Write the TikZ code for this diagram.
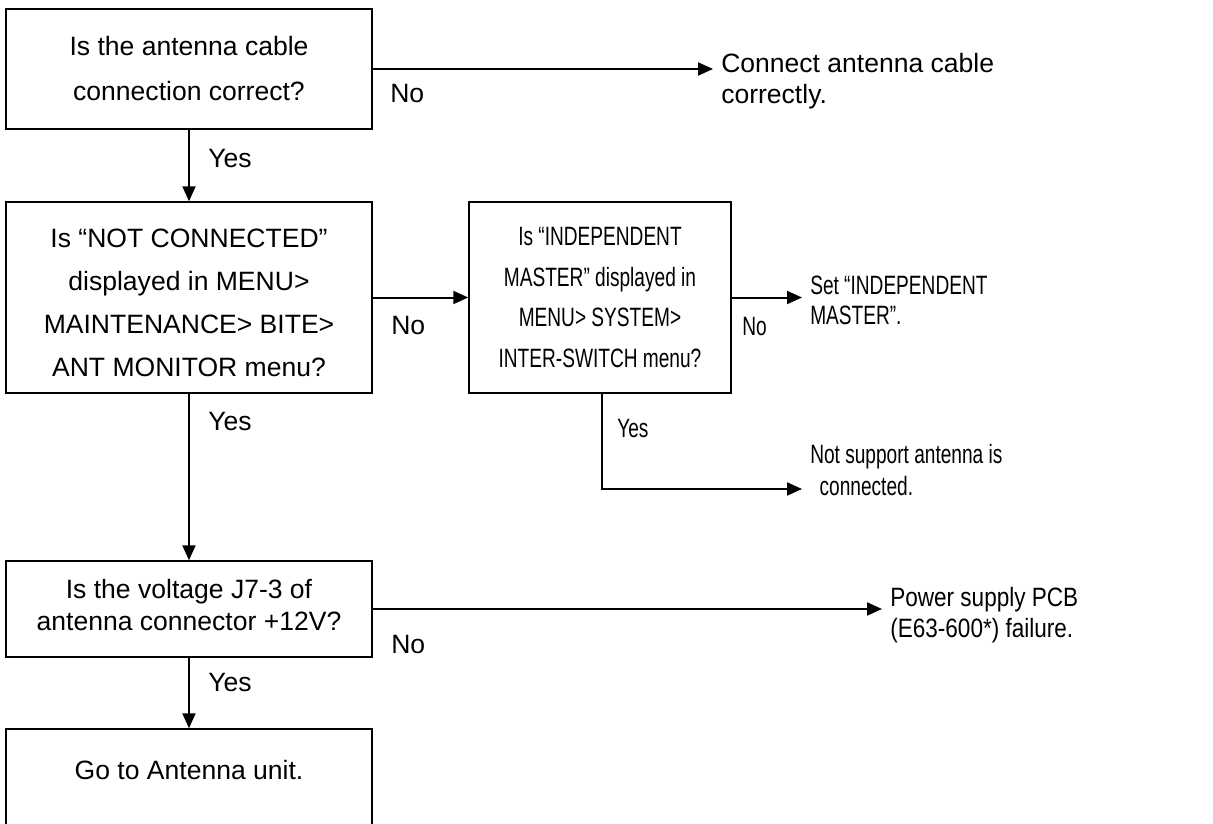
\documentclass[tikz,border=0pt]{standalone}
\usepackage{fontspec}
\setmainfont{Liberation Sans}
\newfontfamily\narrowf{Liberation Sans}[FakeStretch=0.72]
\newfontfamily\semif{Liberation Sans}[FakeStretch=0.85]
\usetikzlibrary{arrows.meta}
\begin{document}
\begin{tikzpicture}[x=0.75pt,y=-0.75pt,
  box/.style={draw, line width=1.1pt, inner sep=0pt, align=center},
  arr/.style={line width=1.5pt, -{Triangle[length=11.25pt,width=9.75pt]}},
  lbl/.style={anchor=base west, inner sep=0pt, font=\fontsize{19.9}{23.25}\selectfont},
  res/.style={anchor=north west, inner xsep=6pt, inner ysep=0pt, align=left}
]
\useasboundingbox (0,0) rectangle (1213,824);
\clip (0,0) rectangle (1213,824);

% boxes
\node[box, minimum width=274.5pt, minimum height=90pt,
      font=\fontsize{19.9}{33.75}\selectfont] (b1) at (189,69)
  {Is the antenna cable\\connection correct?};
\node[box, minimum width=274.5pt, minimum height=143.25pt,
      font=\fontsize{19.9}{32.25}\selectfont] (b2) at (189,297.5)
  {\rule{0pt}{22pt}Is “NOT CONNECTED”\\displayed in MENU>\\MAINTENANCE> BITE>\\ANT MONITOR menu?};
\node[box, minimum width=196.5pt, minimum height=143.25pt,
      font=\narrowf\fontsize{19.9}{30.5}\selectfont] (b3) at (600,297.5)
  {Is “INDEPENDENT\\MASTER” displayed in\\MENU> SYSTEM>\\INTER-SWITCH menu?};
\node[box, minimum width=274.5pt, minimum height=72pt,
      font=\fontsize{19.9}{24}\selectfont] (b4) at (189,609)
  {Is the voltage J7-3 of\\antenna connector +12V?\rule[-6pt]{0pt}{6pt}};
\node[box, minimum width=274.5pt, minimum height=106.5pt] (b5) at (189,800) {};
\node[inner sep=0pt, font=\fontsize{19.9}{23.25}\selectfont] (b5t) at (189,770)
  {Go to Antenna unit.};

% results
\node[res, font=\fontsize{19.9}{23.25}\selectfont] (r1) at (713,53)
  {Connect antenna cable\\correctly.};
\node[res, font=\narrowf\fontsize{19.9}{22.5}\selectfont] (r3) at (802,276)
  {Set “INDEPENDENT\\MASTER”.};
\node[res, font=\narrowf\fontsize{19.9}{24}\selectfont] (r4) at (802,444)
  {Not support antenna is\\\hspace*{7pt}connected.};
\node[res, font=\semif\fontsize{19.9}{23.25}\selectfont] (r5) at (882,587)
  {Power supply PCB\\(E63-600*) failure.};

% labels
\node[lbl] (n1) at (390,103) {No};
\node[lbl] (y1) at (208,167) {Yes};
\node[lbl] (n2) at (391,334) {No};
\node[lbl] (y2) at (208,430) {Yes};
\node[lbl, font=\narrowf\fontsize{19.9}{23.25}\selectfont] (n3) at (742,335) {No};
\node[lbl, font=\narrowf\fontsize{19.9}{23.25}\selectfont] (y3) at (617,437) {Yes};
\node[lbl] (n4) at (391,653) {No};
\node[lbl] (y4) at (208,691) {Yes};

% connectors
\coordinate (c4) at (602,489);
\draw[arr] (b1) -- (b2);
\draw[arr] (b1.east) -- (b1.east -| r1.west);
\draw[arr] (b2) -- (b3);
\draw[arr] (b3.east) -- (b3.east -| r3.west);
\draw[arr] (b3.south -| c4) |- (c4 -| r4.west);
\draw[arr] (b2) -- (b4);
\draw[arr] (b4.east) -- (b4.east -| r5.west);
\draw[arr] (b4) -- (b5);
\end{tikzpicture}
\end{document}
